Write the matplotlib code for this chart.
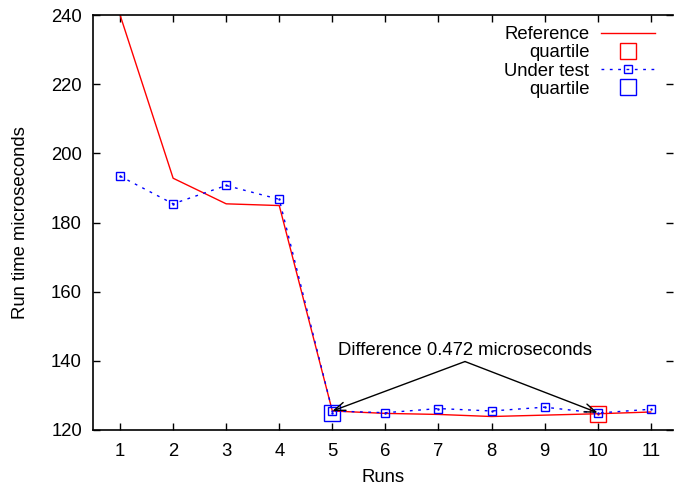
import matplotlib
matplotlib.use('Agg')
import matplotlib.pyplot as plt

plt.rcParams['font.family'] = ['Liberation Sans', 'DejaVu Sans']

runs = [1, 2, 3, 4, 5, 6, 7, 8, 9, 10, 11]
reference = [240.0, 192.8, 185.4, 184.9, 125.5, 124.8, 124.5, 123.9, 124.3, 124.7, 125.2]
under_test = [193.4, 185.4, 190.7, 186.7, 125.5, 125.0, 126.2, 125.5, 126.6, 124.9, 126.0]

ref_quartile_x = [10]
ref_quartile_y = [124.5]
test_quartile_x = [5]
test_quartile_y = [125.0]

note = 'Difference 0.472 microseconds'
note_x, note_y = 7.5, 139.8

fs = 13.3
fig = plt.figure(figsize=(6.74, 4.87), dpi=100)
ax = fig.add_axes([93 / 674, 57 / 487, 580 / 674, 415 / 487])

ax.plot(runs, reference, color='red', lw=1, label='Reference', zorder=2)
ax.plot(ref_quartile_x, ref_quartile_y, ls='none', marker='s', ms=12,
        mfc='none', mec='red', mew=1, label='quartile', zorder=3)
ax.plot(runs, under_test, color='blue', lw=1, ls=(0, (2, 4)),
        marker='s', ms=5.8, mfc='none', mec='blue', mew=1,
        label='Under test', zorder=3)
ax.plot(test_quartile_x, test_quartile_y, ls='none', marker='s', ms=12,
        mfc='none', mec='blue', mew=1, label='quartile', zorder=3)
# little centre dots gnuplot puts in the squares
ax.plot(ref_quartile_x, ref_quartile_y, ls='none', marker='.', ms=1.5, color='red', zorder=3)
ax.plot(test_quartile_x, test_quartile_y, ls='none', marker='.', ms=1.5, color='blue', zorder=3)
ax.plot(runs, under_test, ls='none', marker='.', ms=1.5, color='blue', zorder=3)

# arrows pointing at both series at the drop
ax.text(note_x, note_y + 0.8, note, ha='center', va='bottom', fontsize=fs)
for tx, ty in [(5, 125.5), (10, 125.0)]:
    ax.annotate('', xy=(tx, ty), xytext=(note_x, note_y),
                arrowprops=dict(arrowstyle='->,head_length=0.8,head_width=0.3',
                                color='black', lw=1, shrinkA=0, shrinkB=0))

ax.set_xlim(0.49, 11.42)
ax.set_ylim(120, 240)
ax.set_xticks(runs)
ax.set_yticks(range(120, 241, 20))
ax.tick_params(direction='in', length=5, width=1, labelsize=fs,
               top=True, right=True)
ax.tick_params(axis='x', pad=9)
ax.tick_params(axis='y', pad=8)
for s in ax.spines.values():
    s.set_linewidth(1.2)
ax.spines['right'].set_visible(False)

ax.set_xlabel('Runs', fontsize=fs, labelpad=7)
ax.set_ylabel('Run time microseconds', fontsize=fs, labelpad=16)

ax.legend(loc='upper right', bbox_to_anchor=(655 / 674, 1 - 26 / 487),
          bbox_transform=fig.transFigure, frameon=False, markerfirst=False,
          fontsize=fs, numpoints=1, handlelength=2.9, handletextpad=0.65,
          labelspacing=0.07, borderpad=0, borderaxespad=0)

fig.savefig('out.png', dpi=100)
